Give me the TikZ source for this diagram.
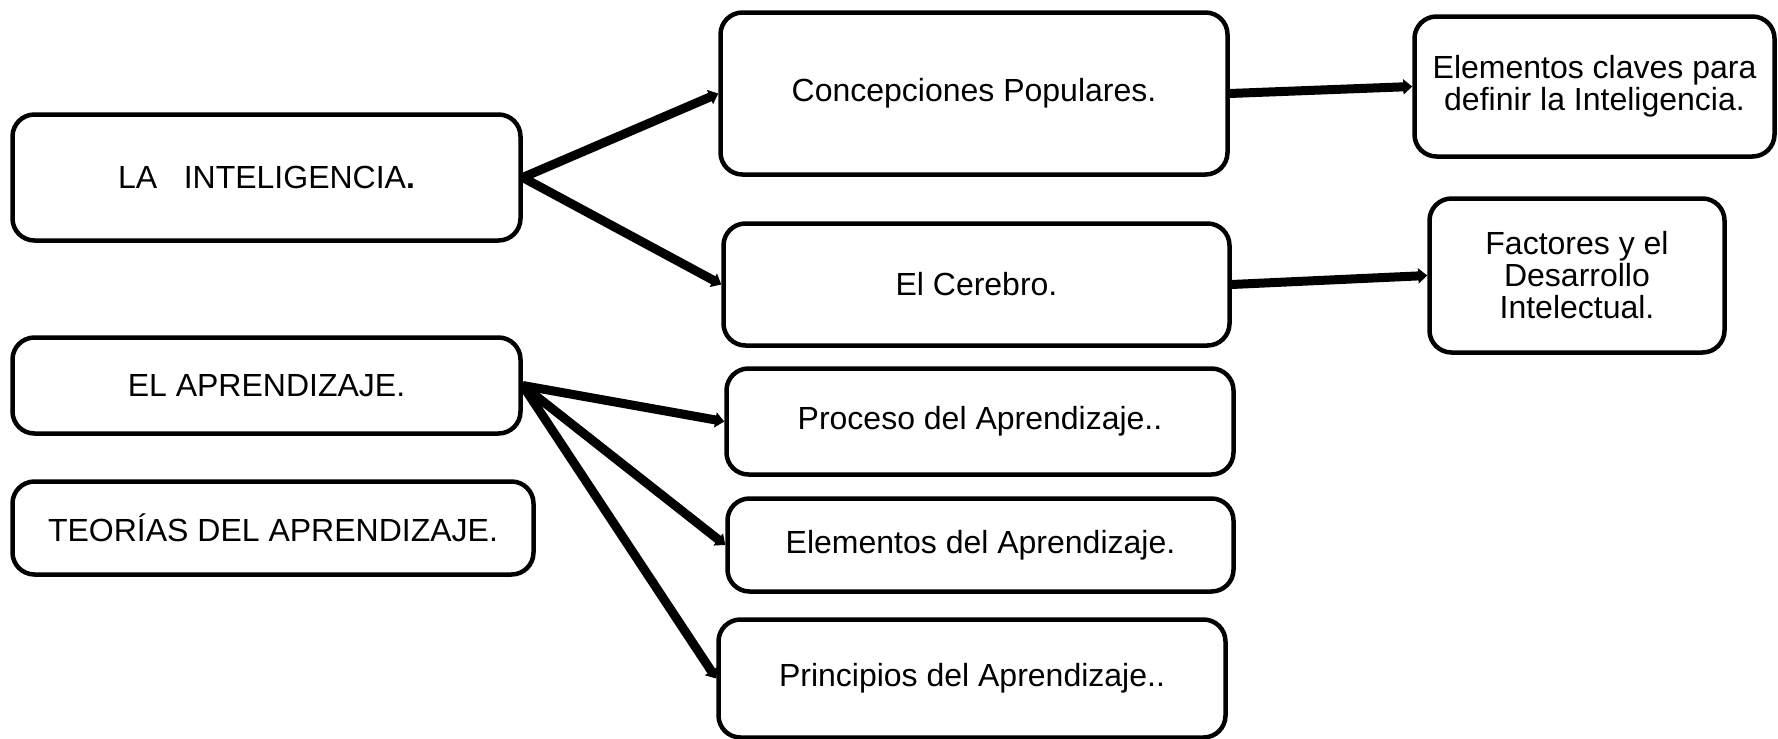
\documentclass[tikz,border=0pt]{standalone}
\usepackage{fontspec}
\setmainfont{Liberation Sans}
\usepackage{tikz}
\usetikzlibrary{arrows.meta}
\tikzset{
every node/.style={rectangle, draw, rounded corners=22pt, line width=4.5pt, align=center, inner sep=0pt, font=\fontsize{32}{32}\selectfont},
link/.style={line width=9pt, -{Triangle[length=9pt,width=15pt]}}
}

\begin{document}
\begin{tikzpicture}[x=1pt,y=-1pt]
\useasboundingbox (0,0) rectangle (1778,739);

\node[minimum width=508pt,minimum height=126pt] (1) at (266.5,177.5) {LA\ \ \ INTELIGENCIA\textbf{.}};
\node[minimum width=507pt,minimum height=162pt] (2) at (974,93.5) {Concepciones Populares.};
\node[minimum width=506pt,minimum height=122pt] (3) at (976.5,284.5) {El Cerebro.};
\node[minimum width=360pt,minimum height=140pt] (4) at (1594.5,86.5) {Elementos claves para\\definir la Inteligencia.};
\node[minimum width=295pt,minimum height=154pt] (5) at (1577,275.5) {Factores y el\\Desarrollo\\Intelectual.};
\node[minimum width=508pt,minimum height=96pt] (6) at (266.5,385.5) {EL APRENDIZAJE.};
\node[minimum width=521pt,minimum height=93pt] (7) at (273,528) {TEORÍAS DEL APRENDIZAJE.};
\node[minimum width=507pt,minimum height=106pt] (8) at (980,421.5) {Proceso del Aprendizaje..};
\node[minimum width=506pt,minimum height=93pt] (9) at (980.5,545) {Elementos del Aprendizaje.};
\node[minimum width=507pt,minimum height=118pt] (10) at (972,678.5) {Principios del Aprendizaje..};

\draw[link] (1.east) -- (2.west);
\draw[link] (1.east) -- (3.west);
\draw[link] (2.east) -- (4.west);
\draw[link] (3.east) -- (5.west);
\draw[link] (6.east) -- (8.west);
\draw[link] (6.east) -- (9.west);
\draw[link] (6.east) -- (10.west);
\end{tikzpicture}
\end{document}
